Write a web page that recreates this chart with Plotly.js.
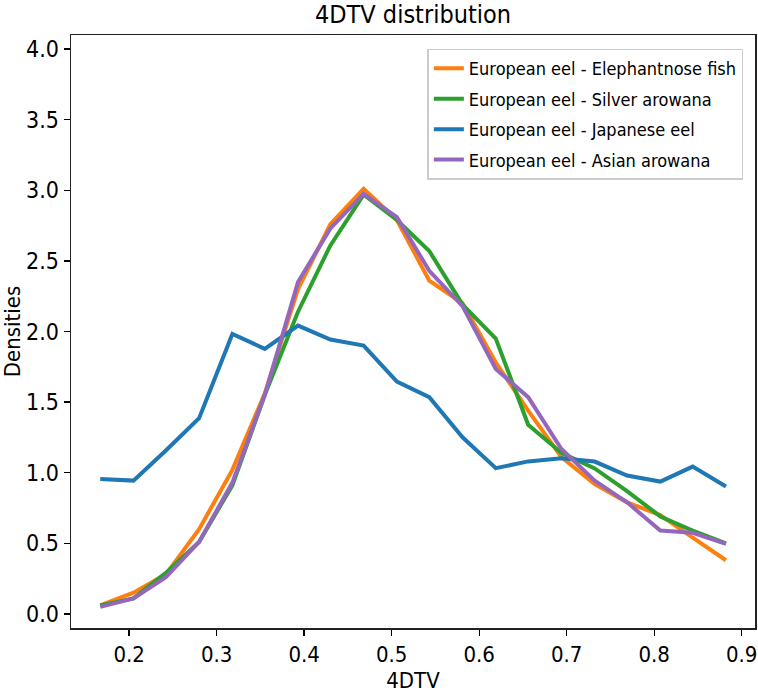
<!DOCTYPE html>
<html>
<head>
<meta charset="utf-8">
<script src="https://cdn.plot.ly/plotly-3.0.1.min.js"></script>
<style>
  html, body { margin: 0; padding: 0; background: #ffffff; }
  #chart { width: 758px; height: 693px; }
</style>
</head>
<body>
<div id="chart"></div>
<script>
// 4DTV bin centres
const x4dtv = [0.167, 0.205, 0.242, 0.280, 0.318, 0.355, 0.393, 0.430, 0.468, 0.506,
               0.543, 0.581, 0.619, 0.656, 0.694, 0.732, 0.769, 0.807, 0.844, 0.882];

const seriesNames = [
  "European eel - Elephantnose fish",
  "European eel - Silver arowana",
  "European eel - Japanese eel",
  "European eel - Asian arowana"
];

const elephantnose = [0.06, 0.15, 0.28, 0.60, 1.02, 1.56, 2.30, 2.76, 3.01, 2.79,
                      2.36, 2.20, 1.78, 1.44, 1.11, 0.92, 0.79, 0.70, 0.54, 0.38];
const silverArowana = [0.06, 0.11, 0.29, 0.51, 0.91, 1.55, 2.14, 2.61, 2.97, 2.79,
                       2.57, 2.19, 1.95, 1.34, 1.14, 1.03, 0.87, 0.69, 0.59, 0.50];
const japaneseEel = [0.955, 0.944, 1.157, 1.386, 1.983, 1.877, 2.042, 1.943, 1.900, 1.645,
                     1.535, 1.251, 1.032, 1.080, 1.103, 1.079, 0.980, 0.937, 1.043, 0.902];
const asianArowana = [0.05, 0.11, 0.26, 0.51, 0.93, 1.55, 2.35, 2.73, 2.975, 2.81,
                      2.43, 2.18, 1.735, 1.535, 1.168, 0.944, 0.79, 0.59, 0.574, 0.496];

const seriesValues = [elephantnose, silverArowana, japaneseEel, asianArowana];
const seriesColors = ["#ff7f0e", "#2ca02c", "#1f77b4", "#9467bd"];

const FONT = "'DejaVu Sans Condensed', 'DejaVu Sans', sans-serif";

const traces = seriesValues.map((vals, i) => ({
  type: "scatter",
  mode: "lines",
  x: x4dtv,
  y: vals,
  name: seriesNames[i],
  legendgroup: "g" + i,
  line: { color: seriesColors[i], width: 4 }
}));

const layout = {
  width: 758,
  height: 693,
  paper_bgcolor: "#ffffff",
  plot_bgcolor: "#ffffff",
  font: { family: FONT, color: "#000000", size: 22 },
  margin: { l: 71, r: 2.5, t: 34.5, b: 65.3, pad: 0 },
  showlegend: true,
  title: {
    text: "4DTV distribution",
    font: { family: FONT, size: 25, color: "#000000" },
    x: 0.5, xref: "paper", xanchor: "center",
    y: 1 - 14 / 693, yref: "container", yanchor: "middle"
  },
  xaxis: {
    range: [0.1336, 0.9152],
    tickmode: "linear", tick0: 0, dtick: 0.1, tickformat: ".1f",
    ticks: "outside", ticklen: 6, tickwidth: 1.3, tickcolor: "#000000",
    showline: true, linecolor: "#222222", linewidth: 1.5, mirror: true,
    showgrid: false, zeroline: false, automargin: false,
    ticklabeloverflow: "allow",
    tickfont: { family: FONT, size: 22, color: "#000000" },
    title: { text: "4DTV", font: { family: FONT, size: 22, color: "#000000" }, standoff: 6 }
  },
  yaxis: {
    range: [-0.1, 4.1],
    tickmode: "linear", tick0: 0, dtick: 0.5, tickformat: ".1f",
    ticks: "outside", ticklen: 6, tickwidth: 1.3, tickcolor: "#000000",
    showline: true, linecolor: "#222222", linewidth: 1.5, mirror: true,
    showgrid: false, zeroline: false, automargin: false,
    tickfont: { family: FONT, size: 23, color: "#000000" },
    title: { text: "Densities", font: { family: FONT, size: 22, color: "#000000" }, standoff: 6 }
  },
  legend: {
    x: 0.983, xanchor: "right",
    y: 0.977, yanchor: "top",
    bgcolor: "#ffffff",
    bordercolor: "#cccccc",
    borderwidth: 1.5,
    font: { family: FONT, size: 18, color: "#000000" },
    tracegroupgap: 4
  }
};

Plotly.newPlot("chart", traces, layout, { staticPlot: true, displayModeBar: false });
</script>
</body>
</html>
